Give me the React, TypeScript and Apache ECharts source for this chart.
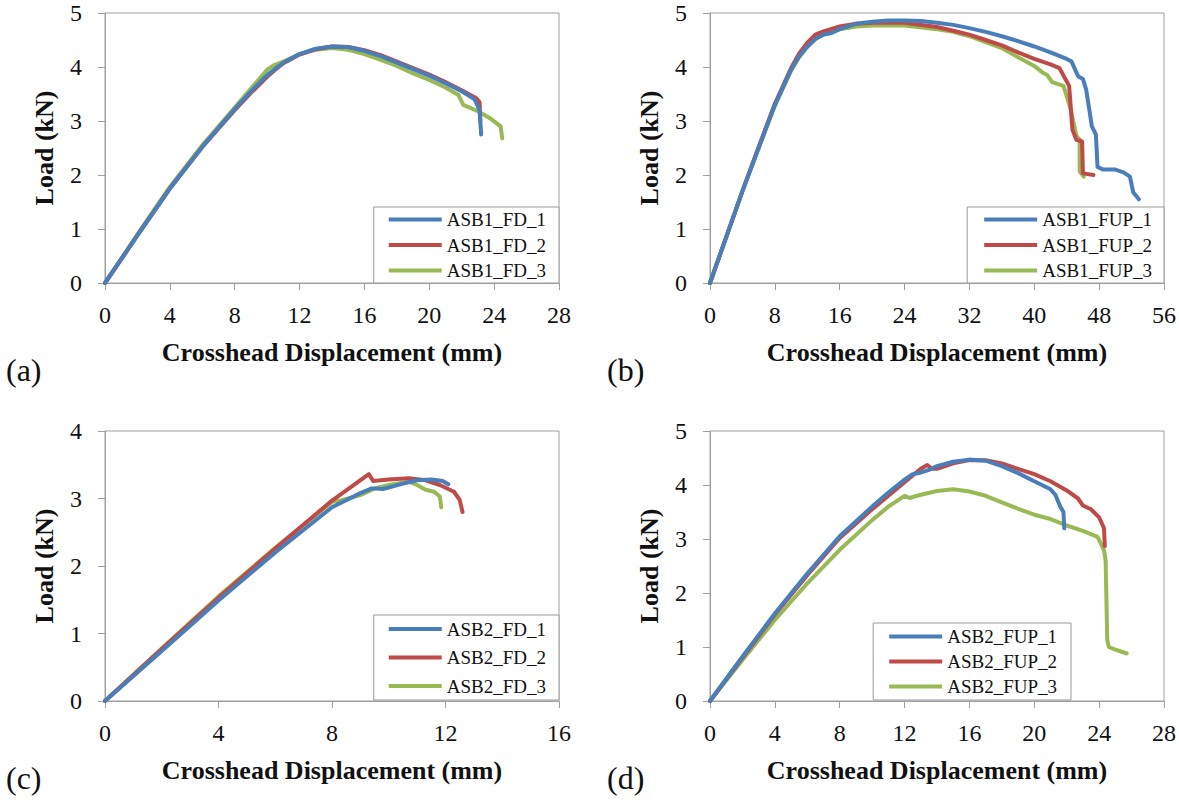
import React, { useEffect, useRef } from "react";
import * as echarts from "echarts";

const SERIF = "Liberation Serif";
const AX = "#a0a0a0";
const COLORS = ["#4A7EBB", "#BE4B48", "#98B954"];

// Panel (a)
const namesA = ["ASB1_FD_1", "ASB1_FD_2", "ASB1_FD_3"];
const a1 = [[0,0],[2,0.88],[4,1.75],[6,2.52],[8,3.22],[9,3.55],[10,3.85],[11,4.08],[12,4.24],[13,4.34],[14,4.38],[15,4.37],[16,4.3],[17,4.2],[18,4.08],[19,3.96],[20,3.84],[21,3.7],[22,3.55],[22.8,3.4],[23.1,3.2],[23.2,2.75]];
const a2 = [[0,0],[2,0.88],[4,1.75],[6,2.52],[8,3.2],[9,3.52],[10,3.82],[10.5,3.95],[11,4.07],[12,4.23],[13,4.33],[14,4.38],[15,4.37],[16,4.31],[17,4.22],[18,4.1],[19,3.98],[20,3.86],[21,3.72],[22,3.57],[22.9,3.42],[23.1,3.35],[23.15,3.0]];
const a3 = [[0,0],[2,0.9],[4,1.78],[6,2.55],[8,3.25],[9,3.6],[10,3.95],[10.4,4.03],[11,4.1],[12,4.24],[13,4.32],[14,4.35],[15,4.32],[16,4.24],[17,4.13],[18,4.02],[19,3.88],[20,3.76],[21,3.62],[21.8,3.48],[22.1,3.3],[23,3.18],[23.8,3.04],[24.4,2.9],[24.5,2.68]];

// Panel (b)
const namesB = ["ASB1_FUP_1", "ASB1_FUP_2", "ASB1_FUP_3"];
const b1 = [[0,0],[2,0.85],[4,1.7],[6,2.5],[8,3.3],[10,3.95],[11,4.2],[12,4.38],[13,4.52],[14,4.6],[15,4.63],[16,4.7],[18,4.8],[20,4.84],[22,4.86],[24,4.86],[26,4.85],[28,4.82],[30,4.78],[32,4.72],[34,4.65],[36,4.57],[38,4.48],[40,4.38],[42,4.27],[44,4.15],[44.6,4.1],[45.4,3.83],[46,3.78],[46.4,3.58],[46.8,3.2],[47.1,2.9],[47.6,2.75],[47.8,2.15],[48.5,2.1],[50,2.1],[51,2.05],[51.8,1.97],[52.2,1.68],[52.9,1.55]];
const b2 = [[0,0],[2,0.85],[4,1.7],[6,2.52],[8,3.32],[10,3.98],[11,4.25],[12,4.45],[13,4.6],[14,4.66],[16,4.75],[18,4.8],[20,4.82],[24,4.82],[28,4.74],[30,4.67],[32,4.6],[34,4.5],[36,4.4],[38,4.27],[40,4.15],[42,4.05],[43.1,3.98],[44.3,3.65],[44.7,2.84],[45.2,2.65],[45.9,2.62],[46,2.03],[47.3,2.0]];
const b3 = [[0,0],[2,0.85],[4,1.7],[6,2.5],[8,3.28],[10,3.93],[11,4.18],[12,4.37],[13,4.52],[14,4.6],[16,4.7],[18,4.75],[20,4.77],[24,4.77],[28,4.7],[30,4.65],[32,4.57],[34,4.46],[36,4.35],[38,4.18],[40,4.02],[41,3.9],[41.6,3.85],[42.2,3.72],[43.6,3.65],[44.5,3.21],[45.2,2.72],[45.6,2.66],[45.6,2.07],[46.1,1.97]];

// Panel (c)
const namesC = ["ASB2_FD_1", "ASB2_FD_2", "ASB2_FD_3"];
const c1 = [[0,0],[2,0.74],[4,1.49],[6,2.2],[8,2.87],[9,3.08],[9.4,3.15],[9.8,3.14],[10.5,3.22],[11,3.27],[11.5,3.28],[11.9,3.26],[12.1,3.21]];
const c2 = [[0,0],[2,0.77],[4,1.53],[6,2.26],[8,2.97],[9.3,3.36],[9.45,3.26],[10,3.28],[10.7,3.3],[11.3,3.27],[11.8,3.2],[12.3,3.1],[12.5,2.98],[12.6,2.8]];
const c3 = [[0,0],[2,0.78],[4,1.55],[6,2.27],[8,2.95],[8.3,2.97],[9,3.05],[9.5,3.15],[10,3.2],[10.7,3.25],[11,3.2],[11.3,3.13],[11.6,3.1],[11.8,3.03],[11.85,2.87]];

// Panel (d)
const namesD = ["ASB2_FUP_1", "ASB2_FUP_2", "ASB2_FUP_3"];
const d1 = [[0,0],[2,0.82],[4,1.62],[6,2.36],[8,3.05],[10,3.6],[11,3.86],[12,4.1],[12.5,4.2],[13,4.23],[13.5,4.28],[14,4.35],[15,4.43],[16,4.47],[17,4.45],[18,4.35],[19,4.22],[20,4.07],[21,3.92],[21.3,3.82],[21.6,3.6],[21.8,3.5],[21.85,3.2]];
const d2 = [[0,0],[2,0.8],[4,1.6],[6,2.33],[8,3.02],[10,3.55],[11,3.8],[12,4.05],[13,4.3],[13.4,4.37],[13.7,4.3],[14,4.3],[15,4.4],[16,4.46],[17,4.46],[18,4.4],[19,4.3],[20,4.2],[21,4.07],[22,3.9],[22.7,3.75],[23,3.62],[23.5,3.55],[24,3.4],[24.3,3.2],[24.35,2.87]];
const d3 = [[0,0],[2,0.76],[4,1.5],[6,2.18],[8,2.8],[10,3.35],[11,3.6],[12,3.8],[12.3,3.76],[13,3.82],[14,3.89],[15,3.92],[16,3.88],[17,3.8],[18,3.68],[19,3.56],[20,3.45],[21,3.37],[22,3.25],[23,3.15],[23.9,3.04],[24.1,2.92],[24.3,2.79],[24.4,2.6],[24.5,1.13],[24.6,1.0],[25,0.95],[25.7,0.88]];

// Axis ranges
const xMaxes = [28, 56, 16, 28];
const xSteps = [4, 8, 4, 4];
const yMaxes = [5, 5, 4, 5];
const panelLabels = ["(a)", "(b)", "(c)", "(d)"];
const xTitle = "Crosshead Displacement (mm)";
const yTitle = "Load (kN)";

export default function App() {
  const ref = useRef<HTMLDivElement>(null);
  useEffect(() => {
    if (!ref.current) return;
    const chart = echarts.init(ref.current, null, { renderer: "svg" });
    const grids = [
      { left: 105, top: 13 },
      { left: 710, top: 13 },
      { left: 105, top: 431 },
      { left: 710, top: 431 },
    ];
    const allData = [[a1, a2, a3], [b1, b2, b3], [c1, c2, c3], [d1, d2, d3]];
    const allNames = [namesA, namesB, namesC, namesD];
    const legendPos = [
      { right: 620, bottom: 520, gap: 6.5, pad: [3, 13, 3, 15] },
      { right: 15, bottom: 520, gap: 6.5, pad: [3, 12, 3, 17] },
      { right: 620, bottom: 103, gap: 9.5, pad: [4.5, 13, 4.5, 15] },
      { right: 108, bottom: 103, gap: 6, pad: [4, 14, 4, 16] },
    ];
    const labelPos = [
      [6, 370], [607, 370], [6, 778], [607, 778],
    ];
    const series: any[] = [];
    allData.forEach((panel, p) => {
      panel.forEach((d, k) => {
        series.push({
          type: "line",
          name: allNames[p][k],
          xAxisIndex: p,
          yAxisIndex: p,
          data: d,
          showSymbol: false,
          symbol: "none",
          lineStyle: { color: COLORS[k], width: 4, cap: "round", join: "round" },
          itemStyle: { color: COLORS[k] },
          z: 5 - k,
        });
      });
    });
    const tickFont = { fontFamily: SERIF, fontSize: 24, color: "#111" };
    const titleFont = { fontFamily: SERIF, fontWeight: "bold" as const, fontSize: 26, color: "#111" };
    chart.setOption({
      animation: false,
      backgroundColor: "#fff",
      textStyle: { fontFamily: SERIF },
      grid: grids.map((g) => ({
        ...g,
        width: 454,
        height: 270,
        show: true,
        borderColor: AX,
        borderWidth: 1,
        backgroundColor: "transparent",
      })),
      xAxis: grids.map((_, i) => ({
        gridIndex: i,
        type: "value",
        min: 0,
        max: xMaxes[i],
        interval: xSteps[i],
        name: xTitle,
        nameLocation: "middle",
        nameGap: 56,
        nameTextStyle: titleFont,
        axisLine: { show: true, onZero: false, lineStyle: { color: AX, width: 1 } },
        axisTick: { show: true, inside: false, length: 7, lineStyle: { color: AX } },
        axisLabel: { ...tickFont, margin: 20 },
        splitLine: { show: false },
      })),
      yAxis: grids.map((_, i) => ({
        gridIndex: i,
        type: "value",
        min: 0,
        max: yMaxes[i],
        interval: 1,
        name: yTitle,
        nameLocation: "middle",
        nameGap: 48,
        nameRotate: 90,
        nameTextStyle: titleFont,
        axisLine: { show: true, onZero: false, lineStyle: { color: AX, width: 1 } },
        axisTick: { show: true, inside: false, length: 7, lineStyle: { color: AX } },
        axisLabel: { ...tickFont, margin: 23 },
        splitLine: { show: false },
      })),
      legend: legendPos.map((l, i) => ({
        orient: "vertical",
        right: l.right,
        bottom: l.bottom,
        data: allNames[i],
        icon: "rect",
        itemWidth: 53,
        itemHeight: 4,
        itemGap: l.gap,
        padding: l.pad,
        borderColor: "#999",
        borderWidth: 1,
        backgroundColor: "#fff",
        selectedMode: false,
        textStyle: { fontFamily: SERIF, fontSize: 19, color: "#111", lineHeight: 19 },
      })),
      graphic: panelLabels.map((t, i) => ({
        type: "text",
        x: labelPos[i][0],
        y: labelPos[i][1],
        style: {
          text: t,
          fontFamily: SERIF,
          fontSize: 32,
          fill: "#111",
          verticalAlign: "middle",
          align: "left",
        },
      })),
      series,
    });
    return () => chart.dispose();
  }, []);
  return (
    <div
      ref={ref}
      style={{ position: "absolute", left: 0, top: 0, width: 1179, height: 803, background: "#fff" }}
    />
  );
}
